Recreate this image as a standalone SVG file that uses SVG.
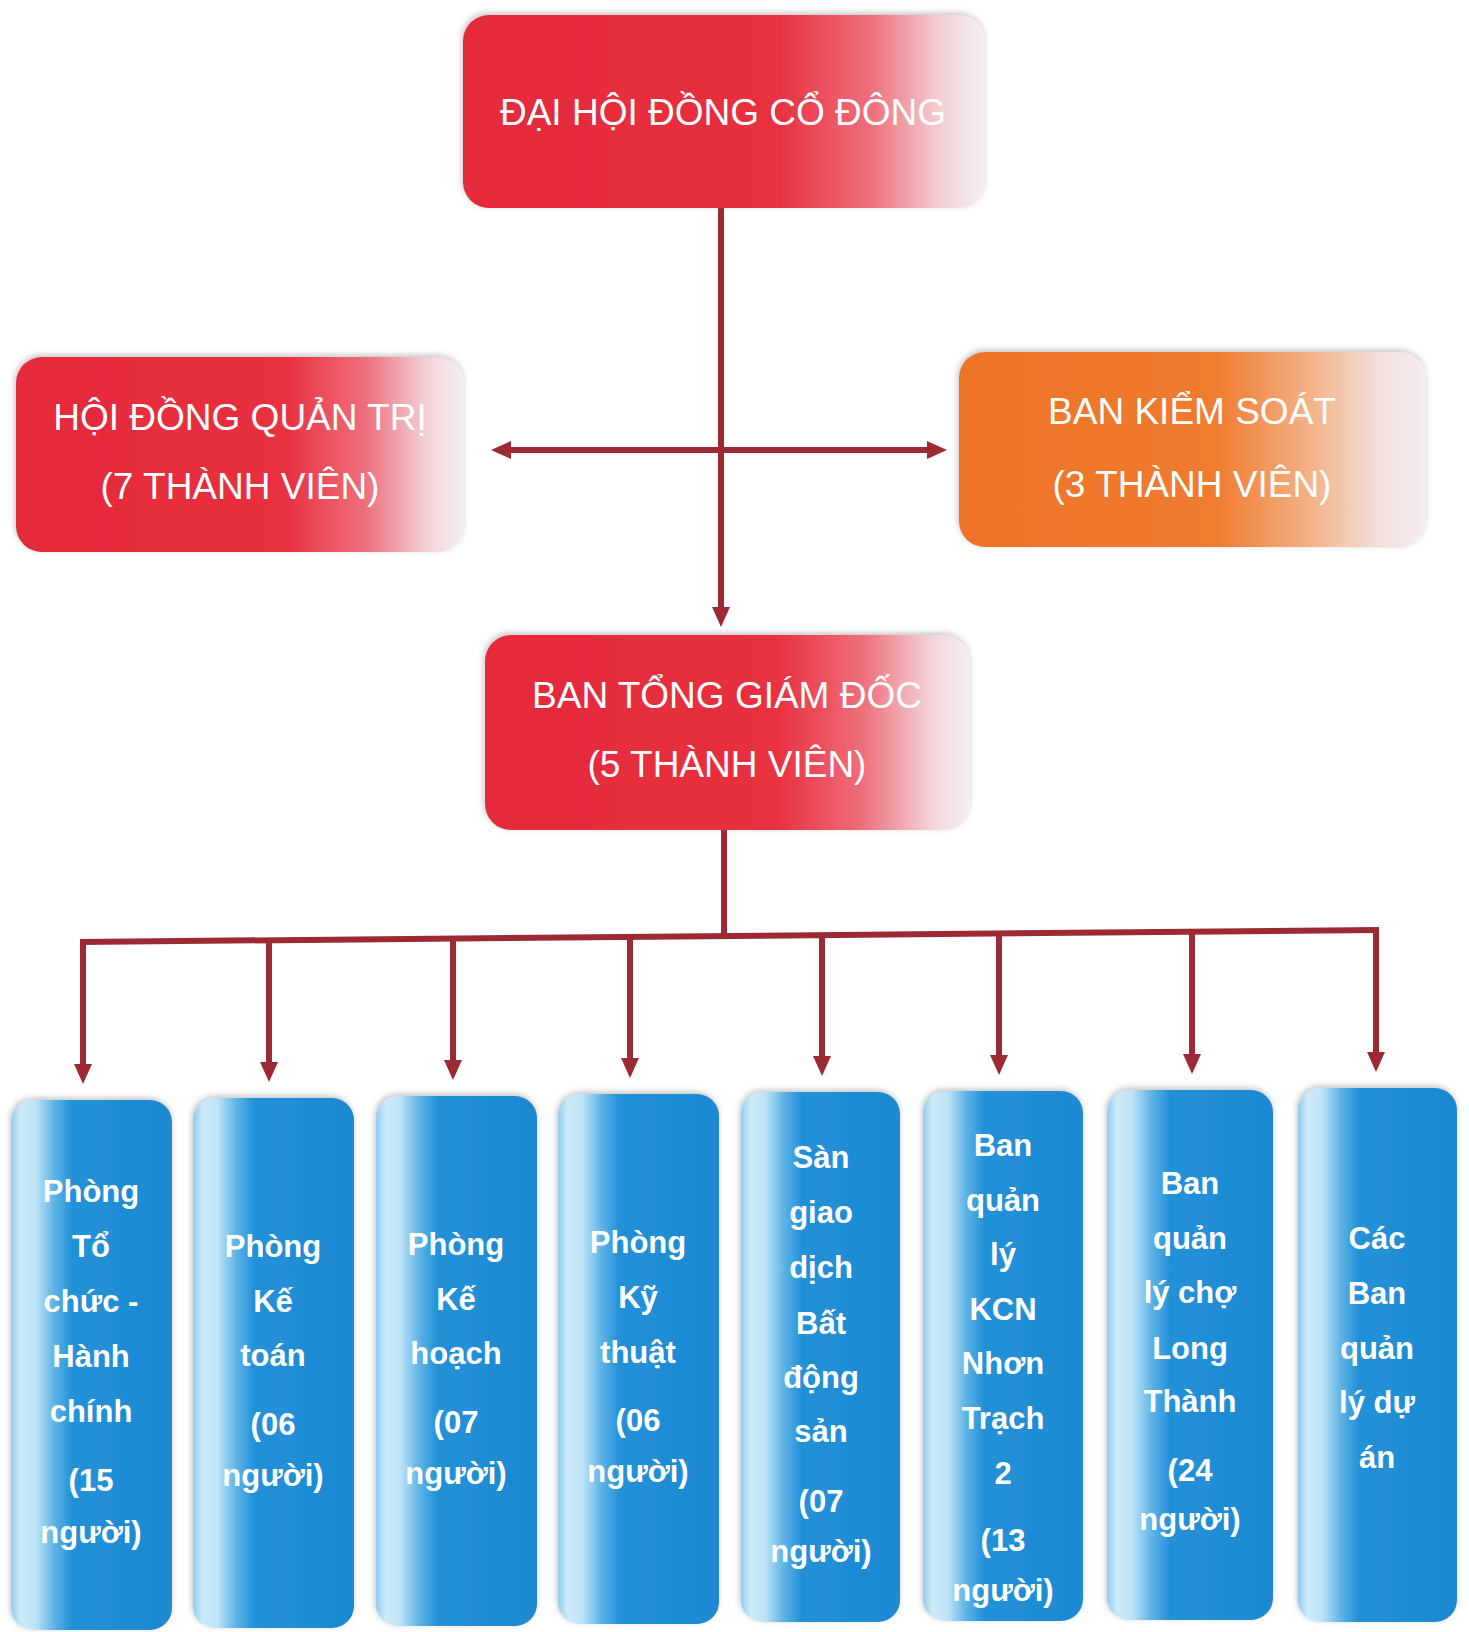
<svg xmlns="http://www.w3.org/2000/svg" width="1469" height="1632" viewBox="0 0 1469 1632">
<style>
.hd{font-family:"Liberation Sans",Arial,sans-serif;font-size:37px;fill:#ffffff;text-anchor:middle}
.bt{font-family:"Liberation Sans",Arial,sans-serif;font-size:31px;font-weight:bold;fill:#ffffff;text-anchor:middle}
.cn{fill:none;stroke:#9C2A34;stroke-width:6}
.ar{marker-end:url(#arr)}
</style>
<defs>
<linearGradient id="gRed" x1="0" y1="0" x2="1" y2="0">
<stop offset="0" stop-color="#E42A3A"/>
<stop offset="0.6" stop-color="#E8303F"/>
<stop offset="0.78" stop-color="#EE6F7C"/>
<stop offset="0.92" stop-color="#F3D3D8"/>
<stop offset="1" stop-color="#F5F0F2"/>
</linearGradient>
<linearGradient id="gOra" x1="0" y1="0" x2="1" y2="0">
<stop offset="0" stop-color="#EE7326"/>
<stop offset="0.55" stop-color="#F07B2F"/>
<stop offset="0.76" stop-color="#F3B48B"/>
<stop offset="0.9" stop-color="#F3E0DC"/>
<stop offset="1" stop-color="#F4EEF0"/>
</linearGradient>
<linearGradient id="gBlue" x1="0" y1="0" x2="1" y2="0">
<stop offset="0" stop-color="#8FCDEE"/>
<stop offset="0.06" stop-color="#CDEBF9"/>
<stop offset="0.15" stop-color="#BFE4F7"/>
<stop offset="0.27" stop-color="#5DB3E5"/>
<stop offset="0.38" stop-color="#2391D8"/>
<stop offset="1" stop-color="#1B89D2"/>
</linearGradient>
<filter id="sh" x="-10%" y="-10%" width="120%" height="120%">
<feDropShadow dx="-1" dy="-2" stdDeviation="3" flood-color="#777777" flood-opacity="0.45"/>
</filter>
<marker id="arr" markerUnits="userSpaceOnUse" markerWidth="20" markerHeight="18" viewBox="0 0 20 18" refX="0" refY="9" orient="auto">
<path d="M0,0 L20,9 L0,18 z" fill="#9C2A34"/>
</marker>
</defs>
<rect width="1469" height="1632" fill="#FFFFFF"/>

<g id="connectors">
<path class="cn ar" d="M721,208 V607"/>
<path class="cn ar" d="M721,450 H511"/>
<path class="cn ar" d="M721,450 H927"/>
<path class="cn" d="M724,830 V937"/>
<path class="cn" d="M80,942 L1379,930"/>
<path class="cn ar" d="M83,942 V1064"/>
<path class="cn ar" d="M269,940 V1062"/>
<path class="cn ar" d="M453,939 V1060"/>
<path class="cn ar" d="M630,937 V1058"/>
<path class="cn ar" d="M822,935 V1056"/>
<path class="cn ar" d="M999,933 V1055"/>
<path class="cn ar" d="M1192,932 V1054"/>
<path class="cn ar" d="M1376,930 V1052"/>
</g>

<g id="n-dhdcd">
<rect x="463" y="15" width="522" height="193" rx="26" fill="url(#gRed)" filter="url(#sh)"/>
<text class="hd" x="723" y="125">ĐẠI HỘI ĐỒNG CỔ ĐÔNG</text>
</g>
<g id="n-hdqt">
<rect x="16" y="357" width="448" height="195" rx="26" fill="url(#gRed)" filter="url(#sh)"/>
<text class="hd" x="240" y="430">HỘI ĐỒNG QUẢN TRỊ</text>
<text class="hd" x="240" y="499">(7 THÀNH VIÊN)</text>
</g>
<g id="n-bks">
<rect x="959" y="352" width="467" height="195" rx="26" fill="url(#gOra)" filter="url(#sh)"/>
<text class="hd" x="1192" y="424">BAN KIỂM SOÁT</text>
<text class="hd" x="1192" y="497">(3 THÀNH VIÊN)</text>
</g>
<g id="n-btgd">
<rect x="485" y="635" width="485" height="195" rx="26" fill="url(#gRed)" filter="url(#sh)"/>
<text class="hd" x="727" y="708">BAN TỔNG GIÁM ĐỐC</text>
<text class="hd" x="727" y="777">(5 THÀNH VIÊN)</text>
</g>

<g id="n-tchc">
<rect x="11" y="1100" width="161" height="530" rx="22" fill="url(#gBlue)" filter="url(#sh)"/>
<text class="bt" x="91" y="1202">Phòng</text>
<text class="bt" x="91" y="1257">Tổ</text>
<text class="bt" x="91" y="1312">chức -</text>
<text class="bt" x="91" y="1367">Hành</text>
<text class="bt" x="91" y="1422">chính</text>
<text class="bt" x="91" y="1491">(15</text>
<text class="bt" x="91" y="1543">người)</text>
</g>
<g id="n-kt">
<rect x="193" y="1098" width="161" height="530" rx="22" fill="url(#gBlue)" filter="url(#sh)"/>
<text class="bt" x="273" y="1257">Phòng</text>
<text class="bt" x="273" y="1312">Kế</text>
<text class="bt" x="273" y="1366">toán</text>
<text class="bt" x="273" y="1435">(06</text>
<text class="bt" x="273" y="1486">người)</text>
</g>
<g id="n-kh">
<rect x="376" y="1096" width="161" height="530" rx="22" fill="url(#gBlue)" filter="url(#sh)"/>
<text class="bt" x="456" y="1255">Phòng</text>
<text class="bt" x="456" y="1310">Kế</text>
<text class="bt" x="456" y="1364">hoạch</text>
<text class="bt" x="456" y="1433">(07</text>
<text class="bt" x="456" y="1484">người)</text>
</g>
<g id="n-kythuat">
<rect x="558" y="1094" width="161" height="530" rx="22" fill="url(#gBlue)" filter="url(#sh)"/>
<text class="bt" x="638" y="1253">Phòng</text>
<text class="bt" x="638" y="1308">Kỹ</text>
<text class="bt" x="638" y="1363">thuật</text>
<text class="bt" x="638" y="1431">(06</text>
<text class="bt" x="638" y="1482">người)</text>
</g>
<g id="n-sgd">
<rect x="741" y="1092" width="159" height="530" rx="22" fill="url(#gBlue)" filter="url(#sh)"/>
<text class="bt" x="821" y="1168">Sàn</text>
<text class="bt" x="821" y="1223">giao</text>
<text class="bt" x="821" y="1278">dịch</text>
<text class="bt" x="821" y="1334">Bất</text>
<text class="bt" x="821" y="1388">động</text>
<text class="bt" x="821" y="1442">sản</text>
<text class="bt" x="821" y="1512">(07</text>
<text class="bt" x="821" y="1562">người)</text>
</g>
<g id="n-kcn">
<rect x="923" y="1091" width="160" height="530" rx="22" fill="url(#gBlue)" filter="url(#sh)"/>
<text class="bt" x="1003" y="1156">Ban</text>
<text class="bt" x="1003" y="1211">quản</text>
<text class="bt" x="1003" y="1265">lý</text>
<text class="bt" x="1003" y="1320">KCN</text>
<text class="bt" x="1003" y="1374">Nhơn</text>
<text class="bt" x="1003" y="1429">Trạch</text>
<text class="bt" x="1003" y="1484">2</text>
<text class="bt" x="1003" y="1551">(13</text>
<text class="bt" x="1003" y="1601">người)</text>
</g>
<g id="n-cho">
<rect x="1107" y="1090" width="166" height="530" rx="22" fill="url(#gBlue)" filter="url(#sh)"/>
<text class="bt" x="1190" y="1194">Ban</text>
<text class="bt" x="1190" y="1249">quản</text>
<text class="bt" x="1190" y="1303">lý chợ</text>
<text class="bt" x="1190" y="1359">Long</text>
<text class="bt" x="1190" y="1412">Thành</text>
<text class="bt" x="1190" y="1481">(24</text>
<text class="bt" x="1190" y="1530">người)</text>
</g>
<g id="n-da">
<rect x="1298" y="1088" width="159" height="534" rx="22" fill="url(#gBlue)" filter="url(#sh)"/>
<text class="bt" x="1377" y="1249">Các</text>
<text class="bt" x="1377" y="1304">Ban</text>
<text class="bt" x="1377" y="1359">quản</text>
<text class="bt" x="1377" y="1413">lý dự</text>
<text class="bt" x="1377" y="1468">án</text>
</g>
</svg>
